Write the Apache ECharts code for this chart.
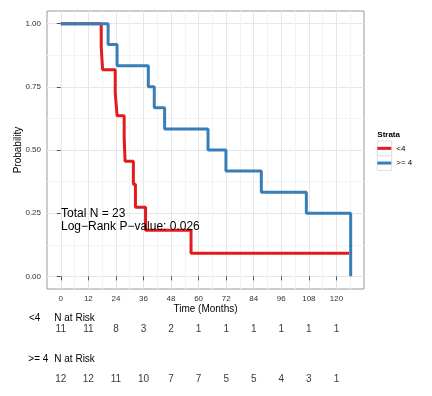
<!DOCTYPE html>
<html><head><meta charset="utf-8">
<script src="https://cdn.jsdelivr.net/npm/echarts@6/dist/echarts.min.js"></script>
<style>html,body{margin:0;padding:0;background:#fff}#c{width:432px;height:396px}</style>
</head><body><div id="c"></div>
<script>
// Kaplan-Meier curves (time in months, survival probability)
const lowTimes  = [0, 17.6, 18.2, 23.7, 24.5, 27.6, 28.0, 31.6, 32.5, 36.9, 56.7, 125.5];
const lowSurv   = [1.0, 0.909, 0.818, 0.727, 0.636, 0.545, 0.455, 0.364, 0.273, 0.182, 0.091, 0.091];
const highTimes = [0, 20.6, 24.5, 38.1, 40.7, 45.2, 64.1, 71.9, 87.3, 106.9, 126.2];
const highSurv  = [1.0, 0.917, 0.833, 0.75, 0.667, 0.583, 0.5, 0.417, 0.333, 0.25, 0.0];
// axis ticks
const xTicks = [0, 12, 24, 36, 48, 60, 72, 84, 96, 108, 120];
const xMinor = [6, 18, 30, 42, 54, 66, 78, 90, 102, 114, 126];
const yTicks = [0, 0.25, 0.5, 0.75, 1.0];
const yMinor = [0.125, 0.375, 0.625, 0.875];
// number at risk table
const riskTimes = [0, 12, 24, 36, 48, 60, 72, 84, 96, 108, 120];
const riskLow   = [11, 11, 8, 3, 2, 1, 1, 1, 1, 1, 1];
const riskHigh  = [12, 12, 11, 10, 7, 7, 5, 5, 4, 3, 1];
const seriesNames = ['<4', '>= 4'];

const FONT = 'Liberation Sans, Arial, Helvetica, sans-serif';
const RED = '#e41a1c', BLUE = '#377eb8';

const chart = echarts.init(document.getElementById('c'), null, {renderer: 'canvas'});

const riskData = [];
riskTimes.forEach((t, i) => riskData.push([t, 0, riskLow[i]]));
riskTimes.forEach((t, i) => riskData.push([t, 1, riskHigh[i]]));

const option = {
  animation: false,
  backgroundColor: '#fff',
  textStyle: {fontFamily: FONT},
  grid: [
    {left: 47, top: 11, width: 317, height: 278, show: true, borderColor: '#9a9a9a', borderWidth: 1,
     backgroundColor: 'transparent', containLabel: false, outerBoundsMode: 'none'},
    {left: 47, top: 329.5, width: 317, height: 50, show: false, containLabel: false, outerBoundsMode: 'none'}
  ],
  xAxis: [
    {type: 'value', gridIndex: 0, min: -6, max: 132,
     axisLine: {show: false},
     axisTick: {show: true, customValues: xTicks, length: 4, lineStyle: {color: '#555'}},
     axisLabel: {customValues: xTicks, fontSize: 8, color: '#333', margin: 6, fontFamily: FONT},
     splitLine: {show: true, lineStyle: {color: '#e6e6e6', width: 1}},
     name: 'Time (Months)', nameLocation: 'middle', nameGap: 15, nameMoveOverlap: false,
     nameTextStyle: {fontSize: 10, color: '#000', fontFamily: FONT}},
    {type: 'value', gridIndex: 0, min: -6, max: 132, position: 'bottom',
     axisLine: {show: false}, axisTick: {show: false, customValues: xMinor}, axisLabel: {show: false},
     splitLine: {show: true, lineStyle: {color: '#f3f3f3', width: 1}}},
    {type: 'value', gridIndex: 1, min: -6, max: 132, show: false}
  ],
  yAxis: [
    {type: 'value', gridIndex: 0, min: -0.05, max: 1.05,
     axisLine: {show: false},
     axisTick: {show: true, customValues: yTicks, length: 4, lineStyle: {color: '#555'}},
     axisLabel: {customValues: yTicks, fontSize: 8, color: '#333', margin: 6, fontFamily: FONT,
                 formatter: v => v.toFixed(2)},
     splitLine: {show: true, lineStyle: {color: '#e6e6e6', width: 1}},
     name: 'Probability', nameLocation: 'middle', nameGap: 24, nameMoveOverlap: false,
     nameTextStyle: {fontSize: 10, color: '#000', fontFamily: FONT}},
    {type: 'value', gridIndex: 0, min: -0.05, max: 1.05, position: 'left',
     axisLine: {show: false}, axisTick: {show: false, customValues: yMinor}, axisLabel: {show: false},
     splitLine: {show: true, lineStyle: {color: '#f3f3f3', width: 1}}},
    {type: 'value', gridIndex: 1, min: 0, max: 1, inverse: true, show: false}
  ],
  legend: {
    data: seriesNames, orient: 'vertical', left: 377.3, top: 141, padding: 0,
    itemGap: 0, itemWidth: 14, itemHeight: 3, icon: 'rect',
    textStyle: {fontSize: 8, color: '#000', lineHeight: 14.7, fontFamily: FONT}
  },
  graphic: [
    {type: 'rect', shape: {x: 377.3, y: 141, width: 14.4, height: 14.7}, style: {fill: '#fff', stroke: '#dedede', lineWidth: 1}, z: -1},
    {type: 'rect', shape: {x: 377.3, y: 155.7, width: 14.4, height: 14.7}, style: {fill: '#fff', stroke: '#dedede', lineWidth: 1}, z: -1},
    {type: 'text', x: 377.3, y: 134.3, z: 100, style: {text: 'Strata', fontSize: 8, fontWeight: 'bold', fontFamily: FONT, fill: '#000', verticalAlign: 'middle'}},
    {type: 'text', x: 61, y: 213.5, z: 100, style: {text: 'Total N = 23', fontSize: 12, fontFamily: FONT, fill: '#000', verticalAlign: 'middle'}},
    {type: 'text', x: 61, y: 226.7, z: 100, style: {text: 'Log\u2212Rank P\u2212value: 0.026', fontSize: 12, fontFamily: FONT, fill: '#000', verticalAlign: 'middle'}},
    {type: 'text', x: 29, y: 318, z: 100, style: {text: '<4', fontSize: 10, fontFamily: FONT, fill: '#000', verticalAlign: 'middle'}},
    {type: 'text', x: 54.3, y: 318, z: 100, style: {text: 'N at Risk', fontSize: 10, fontFamily: FONT, fill: '#000', verticalAlign: 'middle'}},
    {type: 'text', x: 28.3, y: 359, z: 100, style: {text: '>= 4', fontSize: 10, fontFamily: FONT, fill: '#000', verticalAlign: 'middle'}},
    {type: 'text', x: 54.3, y: 359, z: 100, style: {text: 'N at Risk', fontSize: 10, fontFamily: FONT, fill: '#000', verticalAlign: 'middle'}}
  ],
  series: [
    {name: seriesNames[0], type: 'line', xAxisIndex: 0, yAxisIndex: 0, step: 'end', showSymbol: false, symbol: 'none',
     data: lowTimes.map((t, i) => [t, lowSurv[i]]), lineStyle: {color: RED, width: 3}, itemStyle: {color: RED}, z: 3},
    {name: seriesNames[1], type: 'line', xAxisIndex: 0, yAxisIndex: 0, step: 'end', showSymbol: false, symbol: 'none',
     data: highTimes.map((t, i) => [t, highSurv[i]]), lineStyle: {color: BLUE, width: 3}, itemStyle: {color: BLUE}, z: 4},
    {type: 'scatter', xAxisIndex: 2, yAxisIndex: 2, symbolSize: 1, clip: false, silent: true,
     itemStyle: {color: 'rgba(0,0,0,0)'}, data: riskData,
     label: {show: true, position: 'inside', formatter: p => String(p.value[2]), fontSize: 10, color: '#000', fontFamily: FONT}}
  ]
};
chart.setOption(option);
</script>
</body></html>
